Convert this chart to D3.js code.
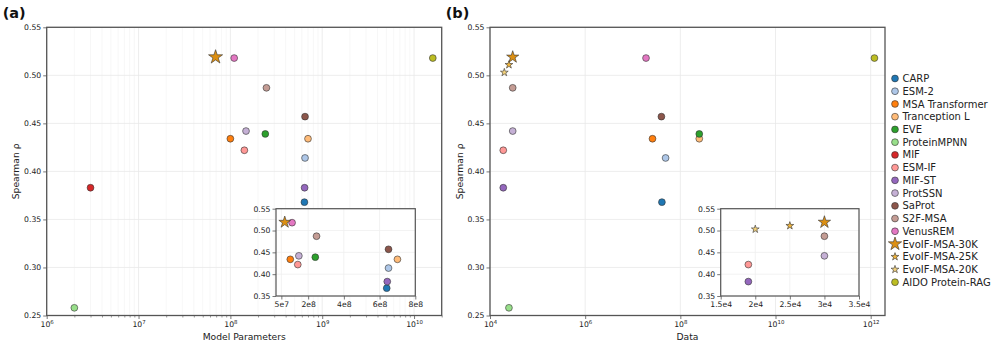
<!DOCTYPE html>
<html>
<head>
<meta charset="utf-8">
<script src="https://cdn.jsdelivr.net/npm/d3@7/dist/d3.min.js"></script>
<style>
  body { margin: 0; background: #fff; }
  svg { display: block; font-family: "DejaVu Sans", sans-serif; }
</style>
</head>
<body>
<svg id="chart" width="997" height="348"></svg>
<script>
// ---- data ----
const models = ["CARP", "ESM-2", "MSA Transformer", "Tranception L", "EVE", "ProteinMPNN",
  "MIF", "ESM-IF", "MIF-ST", "ProtSSN", "SaProt", "S2F-MSA", "VenusREM",
  "EvoIF-MSA-30K", "EvoIF-MSA-25K", "EvoIF-MSA-20K", "AIDO Protein-RAG"];
const spearman = [0.368, 0.414, 0.434, 0.434, 0.439, 0.258,
  0.383, 0.422, 0.383, 0.442, 0.457, 0.487, 0.518,
  0.519, 0.511, 0.503, 0.518];
// model parameters (panel a), null = not plotted
const modelParams = [6.4e8, 6.5e8, 1.0e8, 7.0e8, 2.4e8, 2.0e6,
  3.0e6, 1.42e8, 6.43e8, 1.48e8, 6.5e8, 2.47e8, 1.1e8,
  6.9e7, null, null, 1.6e10];
// training data size (panel b)
const dataSize = [4.1e7, 4.9e7, 2.6e7, 2.5e8, 2.5e8, 2.5e4,
  null, 1.9e4, 1.9e4, 3.0e4, 4.0e7, 3.0e4, 1.9e7,
  3.0e4, 2.5e4, 2.0e4, 1.2e12];

const yTicks = [0.25, 0.30, 0.35, 0.40, 0.45, 0.50, 0.55];
const insetYTicks = [0.35, 0.40, 0.45, 0.50, 0.55];
const insetTicksA = [5e7, 2e8, 4e8, 6e8, 8e8];
const insetTicksB = [1.5e4, 2e4, 2.5e4, 3e4, 3.5e4];

// ---- styles ----
const colors = ["#1f77b4", "#aec7e8", "#ff7f0e", "#ffbb78", "#2ca02c", "#98df8a",
  "#d62728", "#ff9896", "#9467bd", "#c5b0d5", "#8c564b", "#c49c94", "#e377c2",
  "#dc8f12", "#f0b43c", "#f5d27a", "#bcbd22"];
const spine = "#555";
const tickFont = 7.7, labelFont = 9.2;

const svg = d3.select("#chart");

function starPath(R) {
  const r = R * 0.382;
  let p = [];
  for (let i = 0; i < 10; i++) {
    const a = -Math.PI / 2 + i * Math.PI / 5;
    const rr = i % 2 ? r : R;
    p.push([rr * Math.cos(a), rr * Math.sin(a)]);
  }
  return "M" + p.map(d => d.join(",")).join("L") + "Z";
}

function marker(g, i, cx, cy, bigStar) {
  const name = models[i];
  if (name.startsWith("EvoIF")) {
    const R = name.endsWith("30K") ? bigStar : 4.1;
    g.append("path")
      .attr("d", starPath(R))
      .attr("transform", `translate(${cx},${cy})`)
      .attr("fill", colors[i])
      .attr("stroke", "#333")
      .attr("stroke-width", 0.6);
  } else {
    g.append("circle")
      .attr("cx", cx).attr("cy", cy).attr("r", 3.4)
      .attr("fill", colors[i])
      .attr("stroke", "#333")
      .attr("stroke-width", 0.6);
  }
}

function supLabel(sel, v) {
  const e = Math.round(Math.log10(v));
  sel.text(null);
  sel.append("tspan").text("10");
  sel.append("tspan").attr("font-size", 5.4).attr("dy", -3).text(e);
}

function drawPanel(c) {
  const g = svg.append("g");
  const x = d3.scaleLog().domain(c.xDomain).range([c.left, c.right]);
  const y = d3.scaleLinear().domain([0.25, 0.55]).range([c.bottom, c.top]);

  // grid
  const grid = g.append("g");
  grid.selectAll(".mn").data(c.minorX).join("line")
    .attr("x1", d => x(d)).attr("x2", d => x(d))
    .attr("y1", c.top).attr("y2", c.bottom)
    .attr("stroke", "#f1f1f1").attr("stroke-width", 0.6);
  grid.selectAll(".mj").data(c.majorX).join("line")
    .attr("x1", d => x(d)).attr("x2", d => x(d))
    .attr("y1", c.top).attr("y2", c.bottom)
    .attr("stroke", "#e8e8e8").attr("stroke-width", 0.8);
  grid.selectAll(".hy").data(yTicks).join("line")
    .attr("x1", c.left).attr("x2", c.right)
    .attr("y1", d => y(d)).attr("y2", d => y(d))
    .attr("stroke", "#e8e8e8").attr("stroke-width", 0.8);

  // points
  const pts = g.append("g");
  c.xs.forEach((v, i) => {
    if (v == null) return;
    marker(pts, i, x(v), y(spearman[i]), c.bigStar);
  });

  // axes
  const xa = g.append("g").attr("transform", `translate(0,${c.bottom})`)
    .call(d3.axisBottom(x).tickValues(c.majorX).tickSize(3.5).tickPadding(3));
  xa.select(".domain").remove();
  xa.selectAll("line").attr("stroke", spine).attr("stroke-width", 0.8);
  xa.selectAll("text").attr("font-size", tickFont).attr("fill", "#222")
    .attr("font-family", "DejaVu Sans").each(function (d) { supLabel(d3.select(this), d); });
  const xm = g.append("g").attr("transform", `translate(0,${c.bottom})`)
    .call(d3.axisBottom(x).tickValues(c.minorX).tickSize(2).tickFormat(""));
  xm.select(".domain").remove();
  xm.selectAll("line").attr("stroke", spine).attr("stroke-width", 0.6);

  const ya = g.append("g").attr("transform", `translate(${c.left},0)`)
    .call(d3.axisLeft(y).tickValues(yTicks).tickFormat(d3.format(".2f")).tickSize(3.5).tickPadding(2));
  ya.select(".domain").remove();
  ya.selectAll("line").attr("stroke", spine).attr("stroke-width", 0.8);
  ya.selectAll("text").attr("font-size", tickFont).attr("fill", "#222").attr("font-family", "DejaVu Sans");

  g.append("rect")
    .attr("x", c.left).attr("y", c.top)
    .attr("width", c.right - c.left).attr("height", c.bottom - c.top)
    .attr("fill", "none").attr("stroke", spine).attr("stroke-width", 1.3);

  g.append("text")
    .attr("x", (c.left + c.right) / 2).attr("y", 339.5)
    .attr("text-anchor", "middle").attr("font-size", labelFont).attr("fill", "#222")
    .text(c.xLabel);
  g.append("text")
    .attr("transform", `translate(${c.left - 27.3},${(c.top + c.bottom) / 2}) rotate(-90)`)
    .attr("text-anchor", "middle").attr("font-size", labelFont).attr("fill", "#222")
    .text("Spearman ρ");
  g.append("text")
    .attr("x", c.tagX).attr("y", 18.3)
    .attr("font-size", 14.5).attr("font-weight", "bold").attr("fill", "#111")
    .text(c.tag);

  // inset
  const ins = c.inset;
  const ix = d3.scaleLinear().domain(ins.xDomain).range([ins.left, ins.right]);
  const iy = d3.scaleLinear().domain([0.35, 0.55]).range([ins.bottom, ins.top]);
  const ig = g.append("g");
  ig.append("rect")
    .attr("x", ins.left).attr("y", ins.top)
    .attr("width", ins.right - ins.left).attr("height", ins.bottom - ins.top)
    .attr("fill", "#fff");
  ig.selectAll(".ivx").data(ins.ticks).join("line")
    .attr("x1", d => ix(d)).attr("x2", d => ix(d))
    .attr("y1", ins.top).attr("y2", ins.bottom)
    .attr("stroke", "#efefef").attr("stroke-width", 0.8);
  ig.selectAll(".ihy").data(insetYTicks).join("line")
    .attr("x1", ins.left).attr("x2", ins.right)
    .attr("y1", d => iy(d)).attr("y2", d => iy(d))
    .attr("stroke", "#efefef").attr("stroke-width", 0.8);
  c.xs.forEach((v, i) => {
    if (v == null) return;
    if (v < ins.xDomain[0] || v > ins.xDomain[1] || spearman[i] < 0.35) return;
    marker(ig, i, ix(v), iy(spearman[i]), ins.bigStar);
  });
  const ixa = ig.append("g").attr("transform", `translate(0,${ins.bottom})`)
    .call(d3.axisBottom(ix).tickValues(ins.ticks).tickFormat(ins.fmt).tickSize(3.5).tickPadding(2));
  ixa.select(".domain").remove();
  ixa.selectAll("line").attr("stroke", spine).attr("stroke-width", 0.8);
  ixa.selectAll("text").attr("font-size", tickFont).attr("fill", "#222").attr("font-family", "DejaVu Sans");
  const iya = ig.append("g").attr("transform", `translate(${ins.left},0)`)
    .call(d3.axisLeft(iy).tickValues(insetYTicks).tickFormat(d3.format(".2f")).tickSize(3.5).tickPadding(2));
  iya.select(".domain").remove();
  iya.selectAll("line").attr("stroke", spine).attr("stroke-width", 0.8);
  iya.selectAll("text").attr("font-size", tickFont).attr("fill", "#222").attr("font-family", "DejaVu Sans");
  ig.append("rect")
    .attr("x", ins.left).attr("y", ins.top)
    .attr("width", ins.right - ins.left).attr("height", ins.bottom - ins.top)
    .attr("fill", "none").attr("stroke", spine).attr("stroke-width", 1.2);
}

function minorLog(lo, hi, maxV) {
  const out = [];
  for (let e = lo; e <= hi; e++)
    for (let m = 2; m <= 9; m++) {
      const v = m * Math.pow(10, e);
      if (v <= maxV) out.push(v);
    }
  return out;
}

// (a) model parameters
drawPanel({
  left: 46.7, right: 441.7, top: 27.3, bottom: 315.5,
  xDomain: [1e6, 2e10], xs: modelParams, bigStar: 7.4,
  majorX: [1e6, 1e7, 1e8, 1e9, 1e10], minorX: minorLog(6, 10, 2e10),
  xLabel: "Model Parameters", tag: "(a)", tagX: 2.7,
  inset: {
    left: 276, right: 415.3, top: 208.7, bottom: 296,
    xDomain: [2e7, 8e8], ticks: insetTicksA, bigStar: 6.2,
    fmt: d => d3.format(".0e")(d).replace("+", "")
  }
});

// (b) data
drawPanel({
  left: 490, right: 885, top: 27.3, bottom: 315.5,
  xDomain: [1e4, 2e12], xs: dataSize, bigStar: 6.4,
  majorX: [1e4, 1e6, 1e8, 1e10, 1e12], minorX: [],
  xLabel: "Data", tag: "(b)", tagX: 445.7,
  inset: {
    left: 720.7, right: 859, top: 208.7, bottom: 296,
    xDomain: [1.5e4, 3.5e4], ticks: insetTicksB, bigStar: 6.5,
    fmt: d => (d / 1e4) + "e4"
  }
});

// legend
const leg = svg.append("g");
models.forEach((name, i) => {
  const cy = 78.5 + i * 12.73;
  marker(leg, i, 895, cy, 7);
  leg.append("text")
    .attr("x", 902.5).attr("y", cy + 3.6)
    .attr("font-size", 10).attr("fill", "#222")
    .text(name);
});
</script>
</body>
</html>
